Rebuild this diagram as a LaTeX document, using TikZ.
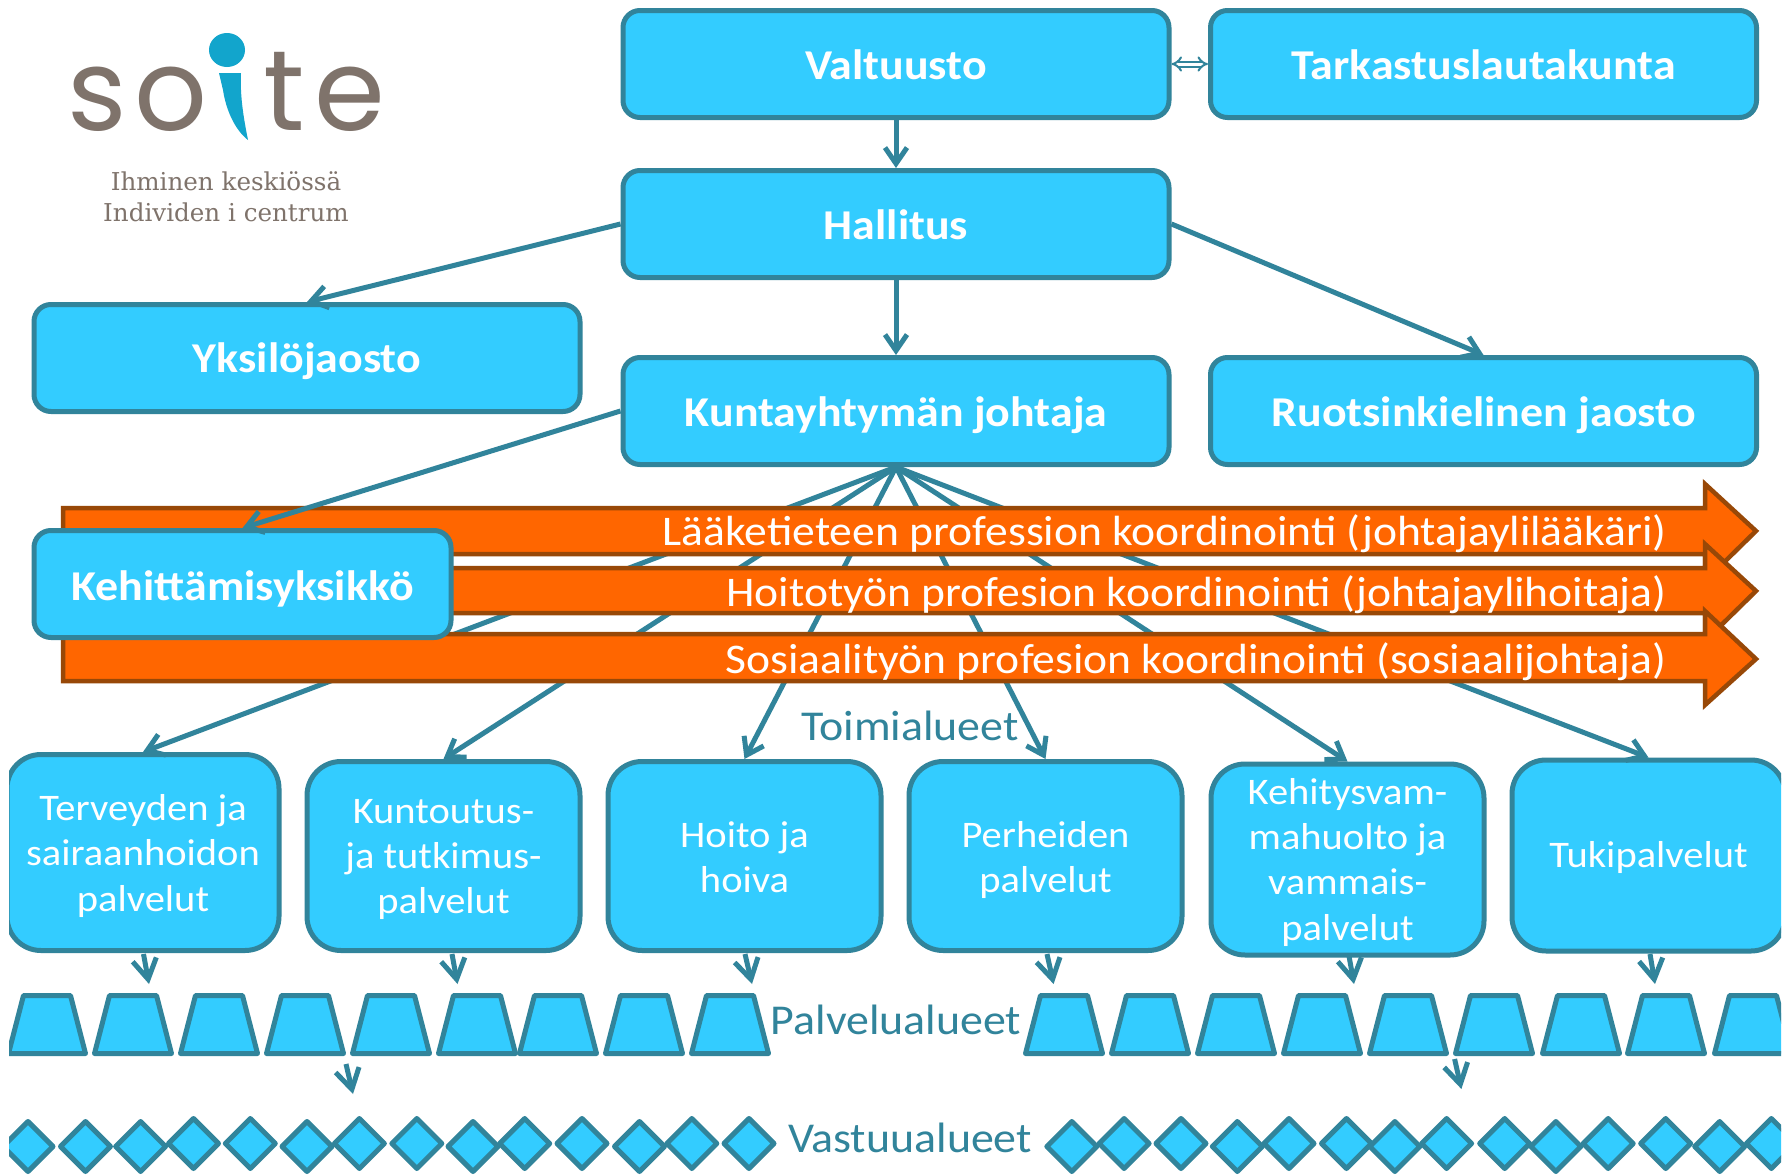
\documentclass[tikz,border=0pt]{standalone}
\usepackage{fontspec}
\setmainfont[FakeStretch=1.08]{Carlito}
\newfontfamily\logofont{Poppins}
\newfontfamily\slabfont{DejaVu Serif}
\usetikzlibrary{arrows.meta}
\definecolor{boxfill}{HTML}{33CCFF}
\definecolor{boxline}{HTML}{31849B}
\definecolor{orfill}{HTML}{FF6600}
\definecolor{orline}{HTML}{984807}
\definecolor{logobrown}{HTML}{7F736B}
\definecolor{logoblue}{HTML}{12A5CC}
\newcommand\cen[2]{\raisebox{#1}[0pt][0pt]{\begin{tabular}{@{}c@{}}#2\end{tabular}}}
\tikzset{
  basebox/.style={draw=boxline,fill=boxfill,line width=5pt,inner sep=0pt,align=center},
  topbox/.style={basebox,rounded corners=17pt,text=white,font=\bfseries\fontsize{42.5}{45}\selectfont},
  areabox/.style={basebox,rounded corners=34pt,text=white,font=\fontsize{37.5}{45.2}\selectfont},
  conn/.style={draw=boxline,line width=5pt,-{Straight Barb[length=16pt,width=22pt,line width=5pt]}},
  shortconn/.style={draw=boxline,line width=5pt,-{Straight Barb[length=20pt,width=24pt,line width=5pt]}},
  orarrow/.style={draw=orline,fill=orfill,line width=4.5pt,miter limit=10},
  orlabel/.style={text=white,anchor=east,inner sep=0pt,font=\fontsize{42.2}{45}\selectfont},
  teallabel/.style={text=boxline,inner sep=0pt,font=\fontsize{42.5}{45}\selectfont},
  trap/.style={draw=boxline,fill=boxfill,line width=5pt,line join=round},
  diam/.style={draw=boxline,fill=boxfill,line width=5pt,line join=round},
  logoletter/.style={text=logobrown,inner sep=0pt,font=\logofont\fontsize{114}{114}\selectfont},
  logotext/.style={text=logobrown,inner sep=0pt,font=\slabfont\fontsize{24.6}{30}\selectfont},
}
\begin{document}
\begin{tikzpicture}[x=1pt,y=-1pt]
\useasboundingbox (0,0) rectangle (1792,1175);
\fill[white] (0,0) rectangle (1792,1175);
\begin{scope}
\clip (9,0) rectangle (1781,1175);
% logo
\node[logoletter] (ls) at (97,99) {s};
\node[logoletter] (lo) at (171,99) {o};
\node[logoletter] (lt) at (284,91) {t};
\node[logoletter] (le) at (350,99) {e};
\fill[logoblue] (227,50) ellipse (18 and 17);
\fill[logoblue] (219,73) -- (241,73) .. controls (240,95) and (243,115) .. (248,140) .. controls (235,130) and (226,110) .. (223,90) -- cycle;
\node[logotext] (l1) at (226,181) {Ihminen keskiössä};
\node[logotext] (l2) at (226,212) {Individen i centrum};
% top boxes
\node[topbox,minimum width=546,minimum height=107] (val) at (896,64) {\cen{-12.5pt}{Valtuusto}};
\node[topbox,minimum width=546,minimum height=107] (tark) at (1483.5,64) {\cen{-12.5pt}{Tarkastuslautakunta}};
\node[topbox,minimum width=546,minimum height=107] (hall) at (896,224) {\cen{-12.5pt}{Hallitus}};
\node[topbox,minimum width=546,minimum height=107] (yksi) at (307,358) {\cen{-11.5pt}{Yksilöjaosto}};
\node[topbox,minimum width=546,minimum height=107] (kunta) at (896,411) {\cen{-12.5pt}{Kuntayhtymän johtaja}};
\node[topbox,minimum width=546,minimum height=107] (ruot) at (1483.5,411) {\cen{-12.5pt}{Ruotsinkielinen jaosto}};
% area boxes
\node[areabox,minimum width=272,minimum height=196] (t1) at (143,852.5) {\cen{-10.5pt}{Terveyden ja\\sairaanhoidon\\palvelut}};
\node[areabox,minimum width=273,minimum height=189] (t2) at (443.5,856) {\cen{-9.5pt}{Kuntoutus-\\ja tutkimus-\\palvelut}};
\node[areabox,minimum width=273,minimum height=189] (t3) at (744.5,856) {\cen{-11pt}{Hoito ja\\hoiva}};
\node[areabox,minimum width=273,minimum height=189] (t4) at (1045.5,856) {\cen{-11pt}{Perheiden\\palvelut}};
\node[areabox,minimum width=273,minimum height=191] (t5) at (1347.5,859.5) {\cen{-10pt}{Kehitysvam-\\mahuolto ja\\vammais-\\palvelut}};
\node[areabox,minimum width=273,minimum height=191] (t6) at (1648.5,855.5) {\cen{-9pt}{Tukipalvelut}};
% connectors
\draw[conn] (val.south) -- (hall.north);
\draw[draw=boxline,line width=2pt,double=white,double distance=3pt,{Implies[length=11pt,width=20pt]}-{Implies[length=11pt,width=20pt]}] (val.east) -- (tark.west);
\draw[conn] (hall.south) -- (kunta.north);
\draw[conn] (hall.west) -- (yksi.north);
\draw[conn] (hall.east) -- (ruot.north);
\foreach \t in {t1,t2,t3,t4,t5,t6}
  \draw[conn] (kunta.south) -- (\t.north);
% coordination arrows
\draw[orarrow] (63,508) -- (1705,508) -- (1705,484) -- (1756,531) -- (1705,581) -- (1705,554) -- (63,554) -- cycle;
\node[orlabel] (o1) at (1667,534) {Lääketieteen profession koordinointi (johtajaylilääkäri)};
\draw[orarrow] (63,568) -- (1705,568) -- (1705,544) -- (1756,591) -- (1705,641) -- (1705,613) -- (63,613) -- cycle;
\node[orlabel] (o2) at (1667,595) {Hoitotyön profesion koordinointi (johtajaylihoitaja)};
\draw[orarrow] (63,634) -- (1705,634) -- (1705,611) -- (1756,659) -- (1705,705) -- (1705,681) -- (63,681) -- cycle;
\node[orlabel] (o3) at (1667,662) {Sosiaalityön profesion koordinointi (sosiaalijohtaja)};
% development unit
\node[topbox,minimum width=417,minimum height=107] (kehi) at (242.5,584) {\cen{-13.5pt}{Kehittämisyksikkö}};
\draw[conn] (kunta.west) -- (kehi.north);
% labels
\node[teallabel] (la1) at (910,726) {Toimialueet};
\node[teallabel] (la2) at (896,1020) {Palvelualueet};
\node[teallabel] (la3) at (910,1138) {Vastuualueet};
% service areas
\foreach \l in {6,92,178,264,350,436,517,603,689,1023,1109,1195,1281,1367,1453,1540,1625,1712}
  \draw[trap] (\l+2.5,1053.5) -- (\l+17.5,995.5) -- (\l+64.5,995.5) -- (\l+79.5,1053.5) -- cycle;
% responsibility areas
\foreach \c/\m in {28/1146.5,85.5/1146.5,140.6/1146.5,193.5/1143.5,250.3/1143.5,307/1146.5,359.4/1143.5,416.8/1143.5,473/1146.5,524.7/1143.5,582/1143.5,639.5/1146.5,691.8/1143.5,749/1143.5,1071.8/1146.5,1124.1/1143.5,1181/1143.5,1237.3/1146.5,1289/1143.5,1346.5/1143.5,1394.9/1146.5,1446.6/1143.5,1504.7/1143.5,1555.9/1146.5,1608.2/1143.5,1665.7/1143.5,1719.7/1146.5,1771.4/1143.5}
  \draw[diam] (\c-25,\m) -- (\c,\m-25) -- (\c+25,\m) -- (\c,\m+25) -- cycle;
% short arrows
\coordinate (s1a) at (143.5,954); \coordinate (s1b) at (149,984);
\coordinate (s2a) at (452,954); \coordinate (s2b) at (457.5,984);
\coordinate (s3a) at (745,954); \coordinate (s3b) at (752,984);
\coordinate (s4a) at (1047,954); \coordinate (s4b) at (1053.6,984);
\coordinate (s5a) at (1349,956); \coordinate (s5b) at (1354,984);
\coordinate (s6a) at (1650,954); \coordinate (s6b) at (1655,984);
\coordinate (s7a) at (346,1064); \coordinate (s7b) at (353,1094);
\coordinate (s8a) at (1454.6,1059); \coordinate (s8b) at (1461.4,1089);
\foreach \n in {1,...,8}
  \draw[shortconn] (s\n a) -- (s\n b);
\end{scope}
\end{tikzpicture}
\end{document}
